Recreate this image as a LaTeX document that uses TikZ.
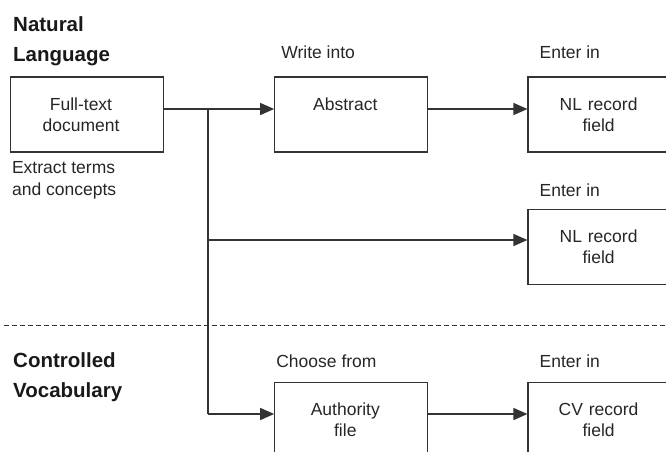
\documentclass[tikz,border=0pt]{standalone}
\usepackage{fontspec}
\setmainfont{Liberation Sans}
\usetikzlibrary{arrows.meta,positioning}

\begin{document}
\begin{tikzpicture}[x=1pt, y=-1pt, node distance=99pt,
    box/.style={draw=black!80, line width=1.3pt, text width=153pt, minimum height=75pt, inner sep=0pt, text=black!85, font=\fontsize{17.5}{21.5}\selectfont,
      execute at begin node={\parindent=0pt\leftskip=0pt plus 1fil\rightskip=12pt plus 1fil\parfillskip=0pt}},
    note/.style={anchor=west, inner sep=0pt, align=left, text=black!85, font=\fontsize{17.5}{21.5}\selectfont},
    head/.style={anchor=north west, inner sep=0pt, align=left, text=black!90, font=\fontsize{20.5}{30}\selectfont\bfseries},
    wire/.style={draw=black!80, line width=1.3pt},
    flow/.style={wire, -{Triangle[length=14pt, width=12pt]}}]
  \useasboundingbox (0,0) rectangle (666,451);
  \clip (0,0) rectangle (666,451);

  % boxes
  \node[box] (full) at (87,114.5) {Full-text\\document};
  \node[box, right=110pt of full] (abstract) {Abstract\\~};
  \node[box, right=of abstract] (nlA) {NL record\\field};
  \node[box, below=56pt of nlA] (nlB) {NL record\\field};
  \node[box, below=229pt of abstract] (authority) {Authority\\file};
  \node[box, right=of authority] (cv) {CV record\\field};

  % labels
  \node[head] (natural) at (13,16) {Natural\\Language};
  \node[head] (controlled) at (13,352) {Controlled\\Vocabulary};
  \node[note, anchor=north west] (extract) at ([xshift=2pt, yshift=-9pt]full.south west) {Extract terms\\and concepts};
  \node[note] (writeinto) at ([xshift=7pt, yshift=24pt]abstract.north west) {Write into};
  \node[note] (enterA) at ([xshift=12pt, yshift=24pt]nlA.north west) {Enter in};
  \node[note] (enterB) at ([xshift=12pt, yshift=18pt]nlB.north west) {Enter in};
  \node[note] (choose) at ([xshift=2pt, yshift=20pt]authority.north west) {Choose from};
  \node[note] (enterC) at ([xshift=12pt, yshift=20pt]cv.north west) {Enter in};

  % separator
  \draw[black!80, line width=1pt, dash pattern=on 5pt off 3pt] (4,325) -- (666,325);

  % connectors
  \coordinate (j1) at (208,109);
  \coordinate (j2) at (208,240);
  \coordinate (j3) at (208,414);
  \draw[wire] (full.east |- j1) -- (j1) -- (j3);
  \draw[flow] (j1) -- (abstract.west |- j1);
  \draw[flow] (abstract.east |- j1) -- (nlA.west |- j1);
  \draw[flow] (j2) -- (nlB.west |- j2);
  \draw[flow] (j3) -- (authority.west |- j3);
  \draw[flow] (authority.east |- j3) -- (cv.west |- j3);
\end{tikzpicture}
\end{document}
